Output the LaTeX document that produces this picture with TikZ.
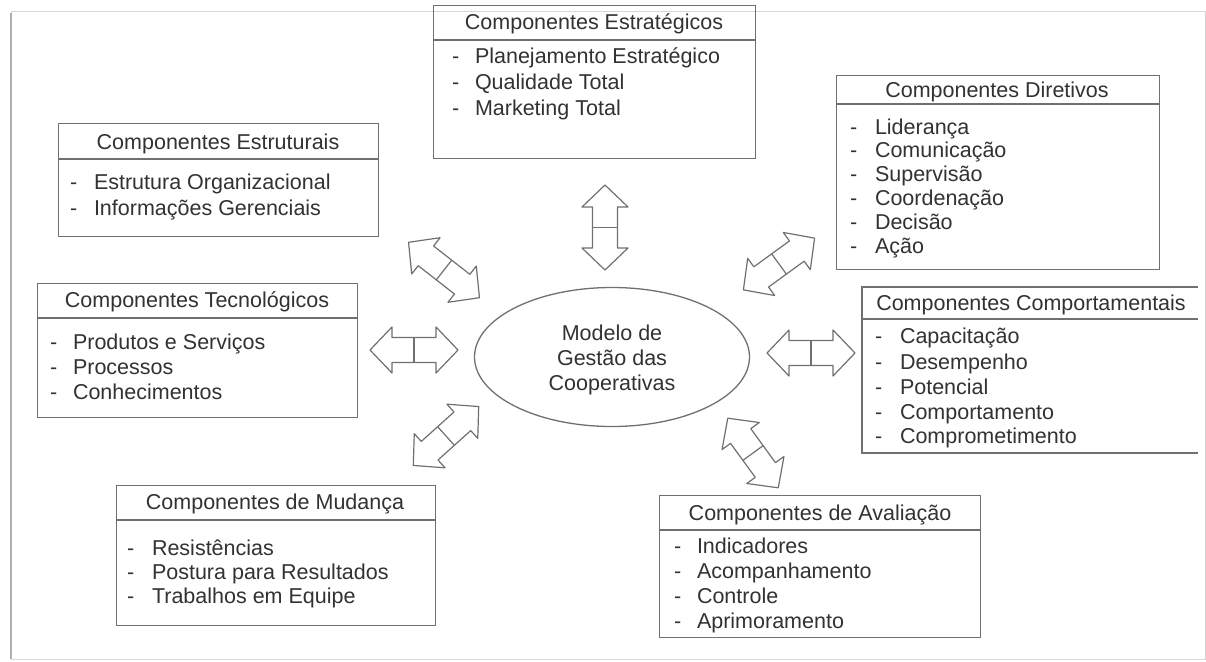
\documentclass[tikz,border=0pt]{standalone}
\usepackage{fontspec}
\setmainfont{Liberation Sans}
\usetikzlibrary{shapes.geometric}
\definecolor{boxgray}{RGB}{112,112,112}
\definecolor{txtgray}{RGB}{50,50,50}
\definecolor{framegray}{RGB}{214,214,214}
\definecolor{shadegray}{RGB}{175,175,175}

% double-headed block arrow with a bar across its middle:
% centre x, centre y, angle, half length
\newcommand\drawblockarrow[4]{%
  \begin{scope}[shift={(#1,#2)},rotate=#3]
    \filldraw[blockarrow] (-#4,0) -- (-#4+22,-23) -- (-#4+22,-12.5) -- (#4-22,-12.5)
      -- (#4-22,-23) -- (#4,0) -- (#4-22,23) -- (#4-22,12.5) -- (-#4+22,12.5)
      -- (-#4+22,23) -- cycle;
    \draw[blockarrow] (0,-12.5) -- (0,12.5);
  \end{scope}}

\begin{document}
\begin{tikzpicture}[x=1pt,y=-1pt,
  txt/.style={text=txtgray, font=\fontsize{21.5}{25}\selectfont,
    text height=15.4pt, text depth=0pt, inner sep=0pt, outer sep=0pt},
  boxline/.style={draw=boxgray, line width=1.3pt},
  compbox/.style={boxline, rectangle, inner sep=0pt, anchor=north west},
  blockarrow/.style={draw=boxgray, fill=white, line width=1.2pt, line join=round},
  title/.style={txt, anchor=west},
  entry/.style={txt, anchor=west},
]
\useasboundingbox (0,0) rectangle (1206,661);
\fill[white] (0,0) rectangle (1206,661);

% outer frame
\draw[framegray, line width=1pt] (11,12) rectangle (1205,659);
\draw[shadegray, line width=2pt] (11,13) -- (11,659);

% central model
\node[draw=boxgray, line width=1.3pt, ellipse, minimum width=275pt,
  minimum height=139pt, inner sep=0pt] (model) at (612,357) {};
\node[txt, anchor=center] (model-a) at (612,333) {Modelo de};
\node[txt, anchor=center] (model-b) at (612,358) {Gestão das};
\node[txt, anchor=center] (model-c) at (612,383) {Cooperativas};

% Componentes Estratégicos
\node[compbox, minimum width=322pt, minimum height=153pt] (estrat) at (433,5) {};
\draw[boxline] (433,40) -- (755,40);
\node[txt, anchor=center] (estrat-t) at (594,22) {Componentes Estratégicos};
\foreach \t/\yy [count=\i] in {Planejamento Estratégico/56, Qualidade Total/82, Marketing Total/108}{
  \node[entry] (estrat-d\i) at (452,\yy) {-};
  \node[entry] (estrat-i\i) at (475,\yy) {\t};}

% Componentes Estruturais
\node[compbox, minimum width=320pt, minimum height=113pt] (estrut) at (58,123) {};
\draw[boxline] (58,159) -- (378,159);
\node[txt, anchor=center] (estrut-t) at (218,142) {Componentes Estruturais};
\foreach \t/\yy [count=\i] in {Estrutura Organizacional/182, Informações Gerenciais/208}{
  \node[entry] (estrut-d\i) at (70,\yy) {-};
  \node[entry] (estrut-i\i) at (94,\yy) {\t};}

% Componentes Diretivos
\node[compbox, minimum width=323pt, minimum height=194pt] (diret) at (836,75) {};
\draw[boxline] (836,104) -- (1159,104);
\node[txt, anchor=center] (diret-t) at (997,90) {Componentes Diretivos};
\foreach \t/\yy [count=\i] in {Liderança/127, Comunicação/150, Supervisão/174, Coordenação/198, Decisão/222, Ação/246}{
  \node[entry] (diret-d\i) at (850,\yy) {-};
  \node[entry] (diret-i\i) at (875,\yy) {\t};}

% Componentes Tecnológicos
\node[compbox, minimum width=320pt, minimum height=134pt] (tecno) at (37,283) {};
\draw[boxline] (37,318) -- (357,318);
\node[txt, anchor=center] (tecno-t) at (197,300) {Componentes Tecnológicos};
\foreach \t/\yy [count=\i] in {Produtos e Serviços/342, Processos/367, Conhecimentos/392}{
  \node[entry] (tecno-d\i) at (50,\yy) {-};
  \node[entry] (tecno-i\i) at (73,\yy) {\t};}

% Componentes Comportamentais (runs past the right edge)
\coordinate (comport-ne) at (1198,287);
\coordinate (comport-se) at (1198,453);
\draw[boxline] (comport-ne) -- (862,287) -- (862,453) -- (comport-se);
\draw[boxline] (862,319) -- (1198,319);
\node[txt, anchor=center] (comport-t) at (1031,303) {Componentes Comportamentais};
\foreach \t/\yy [count=\i] in {Capacitação/336, Desempenho/362, Potencial/387, Comportamento/412, Comprometimento/436}{
  \node[entry] (comport-d\i) at (875,\yy) {-};
  \node[entry] (comport-i\i) at (900,\yy) {\t};}

% Componentes de Mudança
\node[compbox, minimum width=319pt, minimum height=140pt] (mudanca) at (116,485) {};
\draw[boxline] (116,520) -- (435,520);
\node[txt, anchor=center] (mudanca-t) at (275,502) {Componentes de Mudança};
\foreach \t/\yy [count=\i] in {Resistências/548, Postura para Resultados/572, Trabalhos em Equipe/596}{
  \node[entry] (mudanca-d\i) at (127,\yy) {-};
  \node[entry] (mudanca-i\i) at (152,\yy) {\t};}

% Componentes de Avaliação
\node[compbox, minimum width=321pt, minimum height=142pt] (aval) at (659,495) {};
\draw[boxline] (659,530) -- (980,530);
\node[txt, anchor=center] (aval-t) at (820,513) {Componentes de Avaliação};
\foreach \t/\yy [count=\i] in {Indicadores/546, Acompanhamento/571, Controle/596, Aprimoramento/621}{
  \node[entry] (aval-d\i) at (674,\yy) {-};
  \node[entry] (aval-i\i) at (697,\yy) {\t};}

% block arrows between the model and each group
\drawblockarrow{605}{227.5}{90}{42.5}
\drawblockarrow{444}{270}{-38}{45}
\drawblockarrow{779}{264}{36}{44}
\drawblockarrow{414}{350}{0}{44}
\drawblockarrow{811}{353}{0}{44}
\drawblockarrow{446}{436}{42}{44}
\drawblockarrow{753}{453}{-54}{43}
\end{tikzpicture}
\end{document}
